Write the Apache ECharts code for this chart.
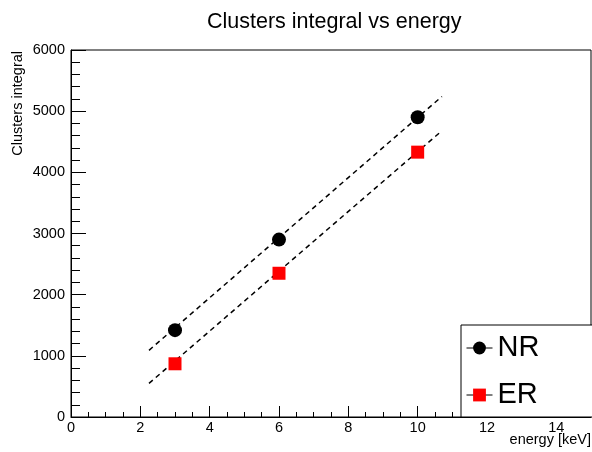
<!DOCTYPE html>
<html>
<head>
<meta charset="utf-8">
<script src="https://cdn.jsdelivr.net/npm/echarts@6/dist/echarts.min.js"></script>
<style>
  html, body { margin: 0; padding: 0; background: #fff; }
  #chart { width: 592px; height: 452px; }
</style>
</head>
<body>
<div id="chart"></div>
<script>
// measured points
const energy = [3, 6, 10]
const nrValues = [1420, 2900, 4900]
const erValues = [870, 2350, 4330]

// dashed fit lines (end points)
const fitX = [2.25, 10.7]
const nrFit = [1090, 5240]
const erFit = [550, 4680]

const FONT = 'Liberation Sans, Arial, Helvetica, sans-serif'

const pairs = (xs, ys) => xs.map((x, i) => [x, ys[i]])

const chart = echarts.init(document.getElementById('chart'), null, { renderer: 'canvas' })

chart.setOption({
  animation: false,
  backgroundColor: '#fff',
  textStyle: { fontFamily: FONT },
  title: {
    text: 'Clusters integral vs energy',
    left: 202,
    top: 6,
    textStyle: { fontFamily: FONT, fontSize: 21.5, fontWeight: 'normal', color: '#000' }
  },
  grid: {
    left: 71,
    right: 1,
    top: 50,
    bottom: 35,
    show: true,
    borderColor: '#000',
    borderWidth: 1,
    backgroundColor: 'transparent'
  },
  xAxis: {
    type: 'value',
    min: 0,
    max: 15,
    interval: 2,
    axisLine: { show: true, lineStyle: { color: '#000', width: 1 } },
    axisTick: { show: true, inside: true, length: 11, lineStyle: { color: '#000' } },
    minorTick: { show: true, splitNumber: 4, length: 5, lineStyle: { color: '#000' } },
    splitLine: { show: false },
    minorSplitLine: { show: false },
    axisLabel: { color: '#000', fontSize: 14.5, fontFamily: FONT, margin: 3, showMaxLabel: false }
  },
  yAxis: {
    type: 'value',
    min: 0,
    max: 6000,
    interval: 1000,
    axisLine: { show: true, lineStyle: { color: '#000', width: 1 } },
    axisTick: { show: true, inside: true, length: 15, lineStyle: { color: '#000' } },
    minorTick: { show: true, splitNumber: 5, length: 9, lineStyle: { color: '#000' } },
    splitLine: { show: false },
    minorSplitLine: { show: false },
    axisLabel: { color: '#000', fontSize: 14.5, fontFamily: FONT, margin: 6, formatter: v => String(v) }
  },
  legend: {
    orient: 'vertical',
    left: 461,
    top: 325,
    padding: [7, 58, 6, 5],
    itemGap: 15,
    itemWidth: 26,
    itemHeight: 16,
    backgroundColor: '#fff',
    borderColor: '#000',
    borderWidth: 1,
    borderRadius: 0,
    data: ['NR', 'ER'],
    textStyle: { fontFamily: FONT, fontSize: 29, color: '#000', lineHeight: 32, padding: [0, 0, 0, 0] },
    lineStyle: { color: '#000', width: 1, opacity: 1, type: 'solid' }
  },
  graphic: [
    {
      type: 'text',
      x: 18,
      y: 51,
      rotation: Math.PI / 2,
      style: {
        text: 'Clusters integral',
        font: '14.5px ' + FONT,
        fill: '#000',
        textAlign: 'right',
        textVerticalAlign: 'middle'
      }
    },
    {
      type: 'text',
      x: 591,
      y: 440,
      style: {
        text: 'energy [keV]',
        font: '14.5px ' + FONT,
        fill: '#000',
        textAlign: 'right',
        textVerticalAlign: 'middle'
      }
    }
  ],
  series: [
    {
      name: 'NR fit',
      type: 'line',
      data: pairs(fitX, nrFit),
      symbol: 'none',
      lineStyle: { color: '#000', width: 1.5, type: [5, 4] },
      z: 2
    },
    {
      name: 'ER fit',
      type: 'line',
      data: pairs(fitX, erFit),
      symbol: 'none',
      lineStyle: { color: '#000', width: 1.5, type: [5, 4] },
      z: 2
    },
    {
      name: 'NR',
      type: 'line',
      data: pairs(energy, nrValues),
      symbol: 'circle',
      symbolSize: 14,
      itemStyle: { color: '#000' },
      lineStyle: { color: '#000', width: 1, opacity: 0 },
      z: 3
    },
    {
      name: 'ER',
      type: 'line',
      data: pairs(energy, erValues),
      symbol: 'rect',
      symbolSize: 13,
      itemStyle: { color: '#ff0000' },
      lineStyle: { color: '#000', width: 1, opacity: 0 },
      z: 3
    }
  ]
})
</script>
</body>
</html>
